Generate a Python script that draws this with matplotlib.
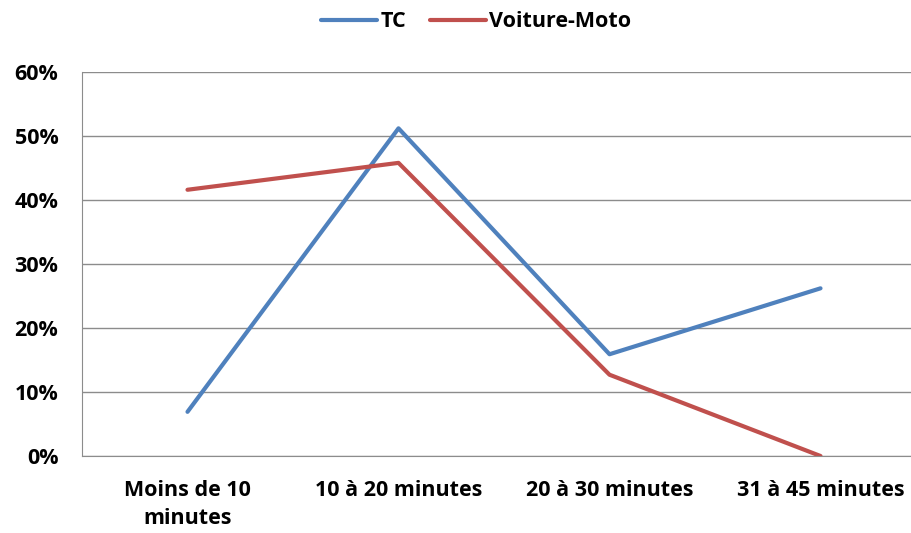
import matplotlib.pyplot as plt
from matplotlib.ticker import PercentFormatter

plt.rcParams['font.family'] = ['Open Sans', 'DejaVu Sans']
plt.rcParams['font.weight'] = 'bold'
plt.rcParams['font.stretch'] = 'normal'

categories = ['Moins de 10\nminutes', '10 à 20 minutes', '20 à 30 minutes', '31 à 45 minutes']
tc = [6.9, 51.2, 15.9, 26.2]
voiture_moto = [41.6, 45.8, 12.7, 0.0]

fs = 15.5

fig = plt.figure(figsize=(9.12, 5.33), dpi=100)
# plot area runs a bit past the right edge, as in the original
ax = fig.add_axes([82 / 912, 1 - 456 / 533, 844 / 912, 384 / 533])

x = range(len(categories))
ax.plot(x, tc, color='#4F81BD', lw=3, label='TC', solid_capstyle='round')
ax.plot(x, voiture_moto, color='#C0504D', lw=3, label='Voiture-Moto', solid_capstyle='round')

ax.set_xlim(-0.5, 3.5)
ax.set_ylim(0, 60)
ax.set_yticks(range(0, 61, 10))
ax.yaxis.set_major_formatter(PercentFormatter(decimals=0))
ax.set_xticks(list(x))
ax.set_xticklabels(categories, fontsize=fs, fontweight='bold', linespacing=1.45)
for t in ax.get_yticklabels():
    t.set_fontsize(fs)
    t.set_fontweight('bold')

ax.grid(axis='y', color='#8c8c8c', lw=1)
ax.set_axisbelow(True)
ax.tick_params(axis='y', length=0, pad=17)
ax.tick_params(axis='x', length=0, pad=17)
for s in ['top', 'right']:
    ax.spines[s].set_visible(False)
for s in ['left', 'bottom']:
    ax.spines[s].set_color('#8c8c8c')

fig.legend(loc='upper center', bbox_to_anchor=(0.522, 1.015), ncol=2, frameon=False,
           prop={'size': fs, 'weight': 'bold', 'stretch': 'normal'}, handlelength=2.6,
           columnspacing=1.1, handletextpad=0.15)

plt.savefig('out.png', dpi=100)
